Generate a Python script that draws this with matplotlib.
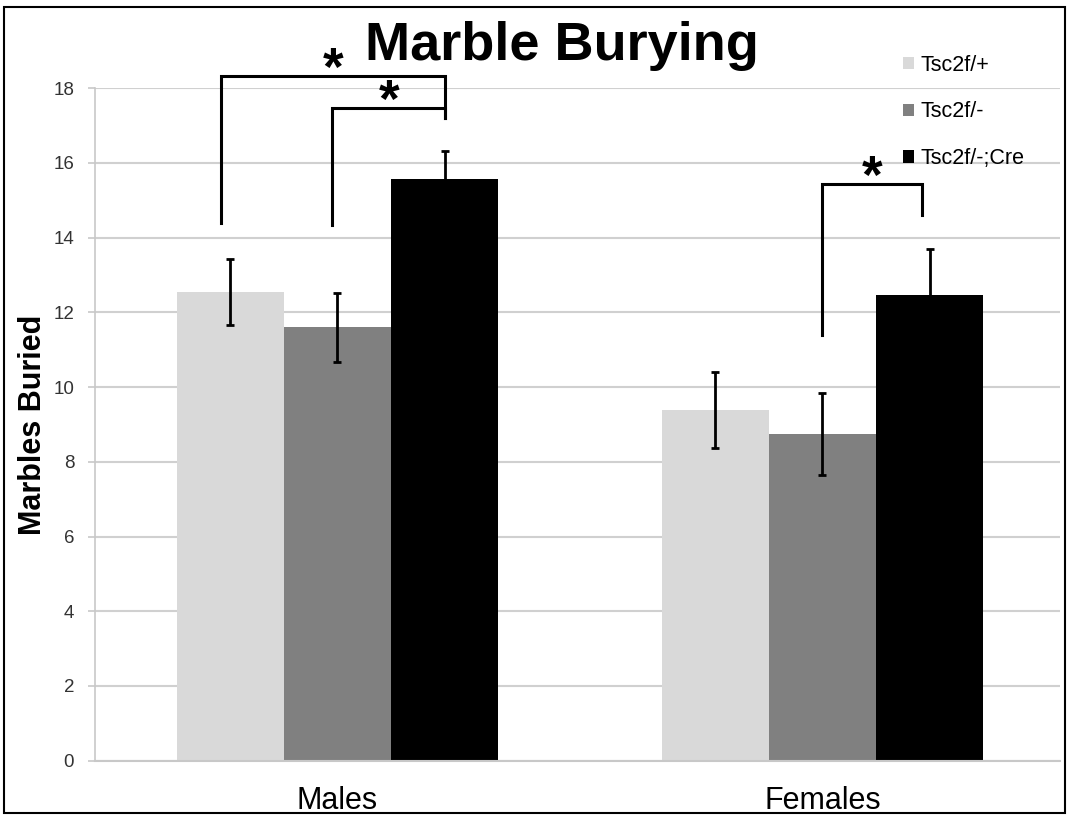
import numpy as np
import matplotlib.pyplot as plt
from matplotlib.patches import Patch, Rectangle

plt.rcParams['font.family'] = ['Liberation Sans', 'DejaVu Sans']

groups = ['Males', 'Females']
genotypes = ['Tsc2f/+', 'Tsc2f/-', 'Tsc2f/-;Cre']
colors = ['#d9d9d9', '#808080', '#000000']

# mean marbles buried and SEM, rows = genotype, cols = sex
means = np.array([[12.55, 9.39],
                  [11.60, 8.74],
                  [15.56, 12.47]])
sems = np.array([[0.89, 1.01],
                 [0.92, 1.10],
                 [0.77, 1.22]])

# significance brackets: (x_left, x_right, y_left_end, y_right_end, y_top)
brackets = [(-0.24, 0.222, 14.39, 17.2, 18.33),
            (-0.011, 0.222, 14.34, 17.2, 17.47),
            (0.999, 1.205, 11.39, 14.61, 15.43)]

fig = plt.figure(figsize=(10.68, 8.15), dpi=100)
ax = fig.add_axes([0.089, 0.0667, 0.9035, 0.825])

x = np.arange(len(groups))
w = 0.221
for i in range(3):
    ax.bar(x + (i - 1) * w, means[i], w, color=colors[i], label=genotypes[i], zorder=2)
    ax.errorbar(x + (i - 1) * w, means[i], yerr=sems[i], fmt='none', ecolor='black',
                elinewidth=2, capsize=3, capthick=2, zorder=3)

for xl, xr, yl, yr, yt in brackets:
    ax.plot([xl, xl, xr, xr], [yl, yt, yt, yr], color='black', lw=2.2,
            clip_on=False, zorder=4, solid_joinstyle='miter')
    ax.text((xl + xr) / 2, yt - 0.23, '*', ha='center', va='baseline', fontsize=38,
            fontweight='bold', clip_on=False)

ax.set_xlim(-0.5, 1.49)
ax.set_ylim(0, 18)
ax.set_yticks(np.arange(0, 19, 2))
ax.set_xticks(x)
ax.set_xticklabels(groups, fontsize=22)
ax.tick_params(axis='y', labelsize=13.5, labelcolor='#333333', color='#c8c8c8',
               length=5, width=1.2, pad=10)
ax.tick_params(axis='x', length=0, pad=18)
ax.yaxis.grid(True, color='#d0d0d0', lw=1.5, zorder=0)
ax.set_axisbelow(True)
for s in ['top', 'right']:
    ax.spines[s].set_visible(False)
ax.spines['left'].set_color('#c8c8c8')
ax.spines['bottom'].set_color('#c8c8c8')
ax.spines['left'].set_linewidth(1.2)
ax.spines['bottom'].set_linewidth(1.5)

ax.set_ylabel('Marbles Buried', fontsize=22, fontweight='bold', labelpad=4)

fig.text(0.526, 0.926, 'Marble Burying', ha='center', va='baseline', fontsize=39,
         fontweight='bold')

handles = [Patch(facecolor=c, edgecolor='none') for c in colors]
fig.legend(handles, genotypes, loc='upper left', bbox_to_anchor=(0.8455, 0.933),
           frameon=False, fontsize=15.5, handlelength=0.5, handleheight=0.5,
           handletextpad=0.3, labelspacing=1.2, borderpad=0, borderaxespad=0)

fig.add_artist(Rectangle((0.004, 0.003), 0.993, 0.989, transform=fig.transFigure,
                         fill=False, edgecolor='black', lw=1.5))

fig.savefig('out.png', dpi=100)
